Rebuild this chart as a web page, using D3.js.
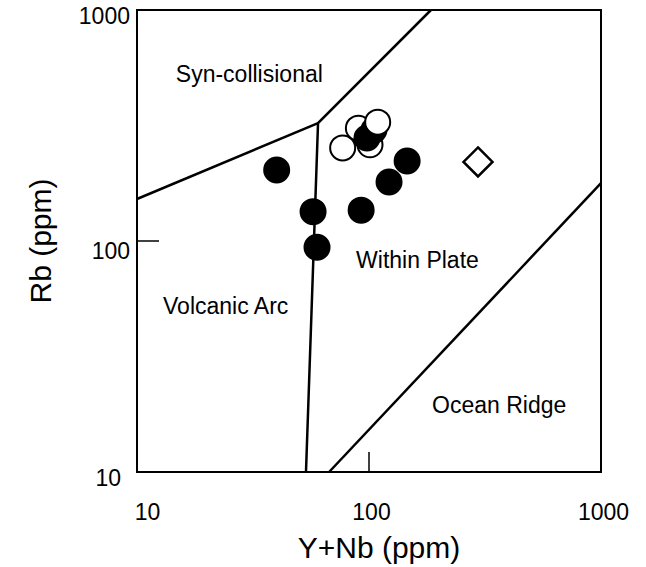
<!DOCTYPE html>
<html>
<head>
<meta charset="utf-8">
<script src="https://cdn.jsdelivr.net/npm/d3@7"></script>
<style>
  body { margin: 0; background: #fff; }
  svg { display: block; font-family: "Liberation Sans", Arial, Helvetica, sans-serif; }
</style>
</head>
<body>
<div id="chart"></div>
<script>
// Rb vs Y+Nb discrimination diagram (log-log)
const xTicks = [10, 100, 1000];
const yTicks = [10, 100, 1000];

// samples: [Y+Nb, Rb]
const openBack = [[77, 253], [90, 308], [101, 261]];
const filled = [[40, 203], [57.4, 134], [59.7, 94], [92.5, 136], [122, 180], [146, 222], [105, 302], [98, 279]];
const openFront = [[109, 327]];
const diamonds = [[295, 220]];

// field boundaries
const boundaries = [
  [[53.5, 10], [60.3, 324], [185, 1000]],
  [[10, 152], [60.3, 324]],
  [[67.3, 10], [1000, 178]],
];

const fieldNames = ['Syn-collisional', 'Within Plate', 'Volcanic Arc', 'Ocean Ridge'];
const fieldX = [14.7, 88, 12.95, 187];
const fieldY = [488, 76.4, 48.3, 18];

const margins = { top: 10, right: 45, bottom: 95, left: 137 };
const canvasWidth = 646;
const canvasHeight = 567;
const width = canvasWidth - margins.left - margins.right;
const height = canvasHeight - margins.top - margins.bottom;

const svg = d3.select('#chart')
  .append('svg')
    .attr('width', canvasWidth)
    .attr('height', canvasHeight);

const plot = svg.append('g')
  .attr('transform', `translate(${margins.left}, ${margins.top})`);

const scaleX = d3.scaleLog().domain([10, 1000]).range([0, width]);
const scaleY = d3.scaleLog().domain([10, 1000]).range([height, 0]);

// frame
plot.append('rect')
  .attr('width', width)
  .attr('height', height)
  .attr('fill', 'none')
  .attr('stroke', '#000')
  .attr('stroke-width', 2);

// axes: inner tick at 100 only, labels set apart
const axisX = d3.axisBottom(scaleX)
  .tickValues(xTicks)
  .tickSize(0)
  .tickPadding(32)
  .tickFormat(d3.format('d'));
const gx = plot.append('g')
  .attr('transform', `translate(0, ${height})`)
  .call(axisX);
gx.select('.domain').remove();
gx.selectAll('.tick text')
  .attr('font-size', 23)
  .attr('font-family', null)
  .attr('dx', (d, i) => (i === 0 ? 10 : 2));

const axisY = d3.axisLeft(scaleY)
  .tickValues(yTicks)
  .tickSize(0)
  .tickPadding(7)
  .tickFormat(d3.format('d'));
const gy = plot.append('g').call(axisY);
gy.select('.domain').remove();
gy.selectAll('.tick text')
  .attr('font-size', 23)
  .attr('font-family', null)
  .attr('dx', (d, i) => (i === 0 ? -9 : 0))
  .attr('dy', (d, i) => (i === 1 ? '0.75em' : '0.6em'));

plot.append('line')
  .attr('x1', scaleX(100)).attr('x2', scaleX(100))
  .attr('y1', height).attr('y2', height - 20)
  .attr('stroke', '#000').attr('stroke-width', 1.5);
plot.append('line')
  .attr('x1', 0).attr('x2', 22)
  .attr('y1', scaleY(100)).attr('y2', scaleY(100))
  .attr('stroke', '#000').attr('stroke-width', 1.5);

// axis titles
svg.append('text')
  .attr('x', margins.left + width / 2 + 10)
  .attr('y', canvasHeight - 9)
  .attr('text-anchor', 'middle')
  .attr('font-size', 30)
  .text('Y+Nb (ppm)');

svg.append('text')
  .attr('transform', `translate(51, ${margins.top + height / 2}) rotate(-90)`)
  .attr('text-anchor', 'middle')
  .attr('font-size', 30)
  .text('Rb (ppm)');

// field boundaries
const line = d3.line()
  .x(d => scaleX(d[0]))
  .y(d => scaleY(d[1]));

plot.append('g')
  .selectAll('path')
  .data(boundaries)
  .enter()
  .append('path')
    .attr('d', line)
    .attr('fill', 'none')
    .attr('stroke', '#000')
    .attr('stroke-width', 2.5);

// field names
plot.append('g')
  .selectAll('text')
  .data(fieldNames)
  .enter()
  .append('text')
    .attr('x', (d, i) => scaleX(fieldX[i]))
    .attr('y', (d, i) => scaleY(fieldY[i]))
    .attr('font-size', 23)
    .text(d => d);

// samples
const drawCircles = (pts, fill) => plot.append('g')
  .selectAll('circle')
  .data(pts)
  .enter()
  .append('circle')
    .attr('cx', d => scaleX(d[0]))
    .attr('cy', d => scaleY(d[1]))
    .attr('r', 12.5)
    .attr('fill', fill)
    .attr('stroke', '#000')
    .attr('stroke-width', 2);

drawCircles(openBack, '#fff');
drawCircles(filled, '#000');
drawCircles(openFront, '#fff');

plot.append('g')
  .selectAll('path')
  .data(diamonds)
  .enter()
  .append('path')
    .attr('d', d => {
      const cx = scaleX(d[0]);
      const cy = scaleY(d[1]);
      const s = 14.5;
      return `M${cx},${cy - s}L${cx + s},${cy}L${cx},${cy + s}L${cx - s},${cy}Z`;
    })
    .attr('fill', '#fff')
    .attr('stroke', '#000')
    .attr('stroke-width', 2.5);
</script>
</body>
</html>
